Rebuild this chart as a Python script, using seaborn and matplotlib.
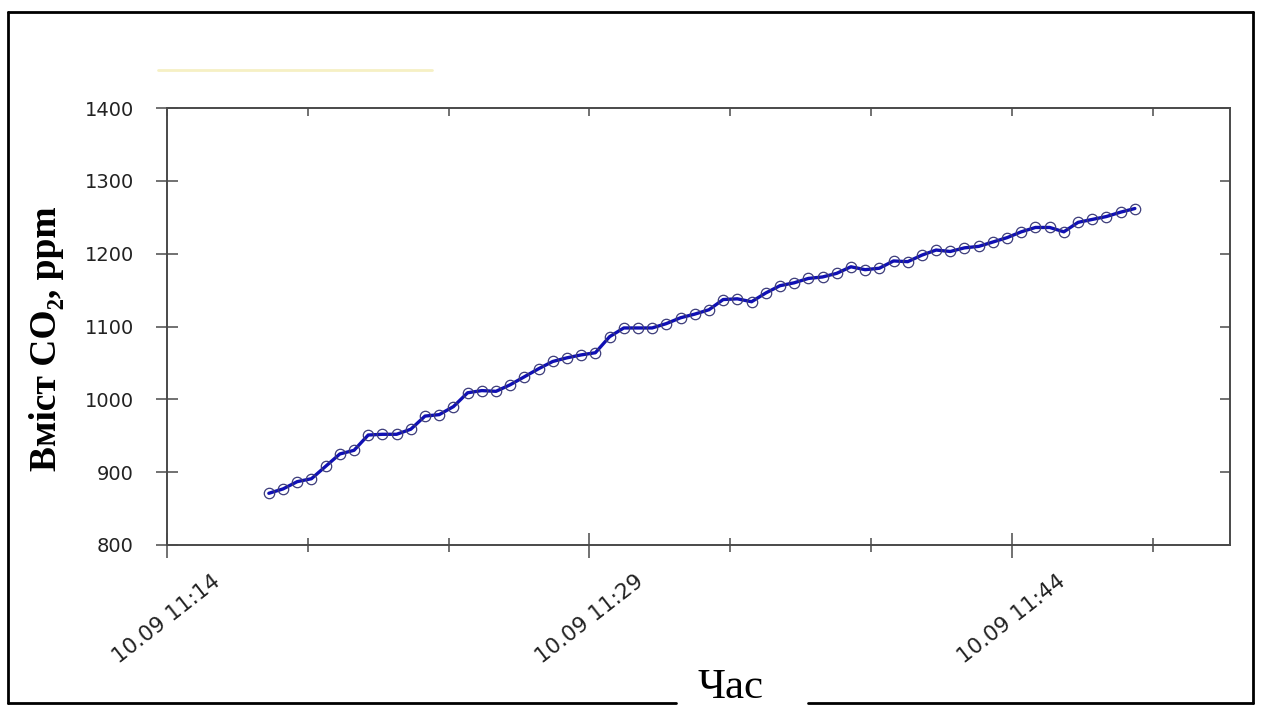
import matplotlib
matplotlib.use("Agg")
import matplotlib.pyplot as plt
import matplotlib.dates as mdates
from matplotlib.lines import Line2D
import pandas as pd
import seaborn as sns

# CO2 logger readings, one sample about every 30 s from 10.09 11:17:37
start_time = "2013-09-10 11:17:37"
sample_step = "30250ms"
co2_ppm = [
    871, 877, 887, 891, 908, 925, 930, 951, 952, 952, 959, 977, 979,
    990, 1009, 1012, 1011, 1020, 1031, 1042, 1052, 1057, 1061, 1064, 1086,
    1098, 1098, 1098, 1104, 1112, 1117, 1123, 1137, 1138, 1134, 1146, 1156, 1160,
    1166, 1168, 1173, 1182, 1178, 1180, 1190, 1189, 1198, 1205, 1203, 1208, 1210,
    1216, 1222, 1230, 1236, 1236, 1230, 1243, 1247, 1251, 1257, 1262,
]
x_start = "2013-09-10 11:14:00"
x_end = "2013-09-10 11:51:45"
y_ticks = [800, 900, 1000, 1100, 1200, 1300, 1400]

times = pd.date_range(start_time, periods=len(co2_ppm), freq=sample_step)
df = pd.DataFrame({"time": times, "co2": co2_ppm})

sns.set_style("white")
plt.rcParams["font.family"] = ["DejaVu Sans"]

W, H = 1261, 708
fig = plt.figure(figsize=(W / 100, H / 100), dpi=100)
ax = fig.add_axes([167 / W, 1 - 545 / H, (1230 - 167) / W, (545 - 108) / H])

sns.lineplot(
    data=df, x="time", y="co2", ax=ax,
    color="#1010b4", linewidth=2.4,
    marker="o", markersize=7.5, markerfacecolor="none",
    markeredgecolor="#3c3c7a", markeredgewidth=0.9,
)

ax.set_xlim(pd.Timestamp(x_start), pd.Timestamp(x_end))
ax.set_ylim(800, 1400)
ax.set_yticks(y_ticks)
ax.set_xlabel("")
ax.set_ylabel("Вміст CO₂, ppm", family=["Liberation Serif", "DejaVu Serif"],
              fontsize=27, fontweight="bold", color="black")
ax.yaxis.set_label_coords(-0.097, 0.472)

ax.xaxis.set_major_locator(mdates.MinuteLocator(byminute=[14, 29, 44, 59]))
ax.xaxis.set_minor_locator(mdates.MinuteLocator(byminute=range(4, 60, 5)))
ax.xaxis.set_major_formatter(mdates.DateFormatter("%d.%m %H:%M"))

axis_col = "#4a4a4a"
for s in ax.spines.values():
    s.set_visible(True)
    s.set_color(axis_col)
    s.set_linewidth(1.4)

ax.tick_params(axis="x", which="major", direction="inout", length=18, width=1.1,
               color=axis_col, labelsize=15.5, labelcolor="#222222", pad=10)
ax.tick_params(axis="x", which="minor", direction="inout", length=10, width=1.1,
               color=axis_col)
ax.tick_params(axis="y", which="major", direction="inout", length=16, width=1.1,
               color=axis_col, labelsize=14, labelcolor="#222222", pad=16)
plt.setp(ax.get_xticklabels(), rotation=38, ha="center")

# inward ticks on the top and right frame
ax_top = ax.twiny()
ax_top.set_xlim(ax.get_xlim())
ax_top.xaxis.set_major_locator(mdates.MinuteLocator(byminute=range(4, 60, 5)))
ax_top.tick_params(axis="x", direction="in", length=6, width=1.1, color=axis_col,
                   labeltop=False)
ax_right = ax.twinx()
ax_right.set_ylim(ax.get_ylim())
ax_right.set_yticks(y_ticks)
ax_right.tick_params(axis="y", direction="in", length=7, width=1.1, color=axis_col,
                     labelright=False)
for a in (ax_top, ax_right):
    for s in a.spines.values():
        s.set_visible(False)

# faint legend remnant above the plot
fig.add_artist(Line2D([158 / W, 432 / W], [1 - 70 / H] * 2, transform=fig.transFigure,
                      color="#f6f0c4", linewidth=2))

# page frame, broken at the bottom by the axis caption
frame = dict(transform=fig.transFigure, color="black", linewidth=2)
fx0, fx1, fy0, fy1 = 8 / W, 1253 / W, 1 - 703 / H, 1 - 12 / H
fig.add_artist(Line2D([fx0, fx1], [fy1, fy1], **frame))
fig.add_artist(Line2D([fx0, fx0], [fy0, fy1], **frame))
fig.add_artist(Line2D([fx1, fx1], [fy0, fy1], **frame))
fig.add_artist(Line2D([fx0, 676 / W], [fy0, fy0], **frame))
fig.add_artist(Line2D([808 / W, fx1], [fy0, fy0], **frame))
fig.text(731 / W, 1 - 688 / H, "Час", family=["Liberation Serif", "DejaVu Serif"],
         fontsize=31, ha="center", va="center", color="black")

fig.savefig("out.png", dpi=100)
